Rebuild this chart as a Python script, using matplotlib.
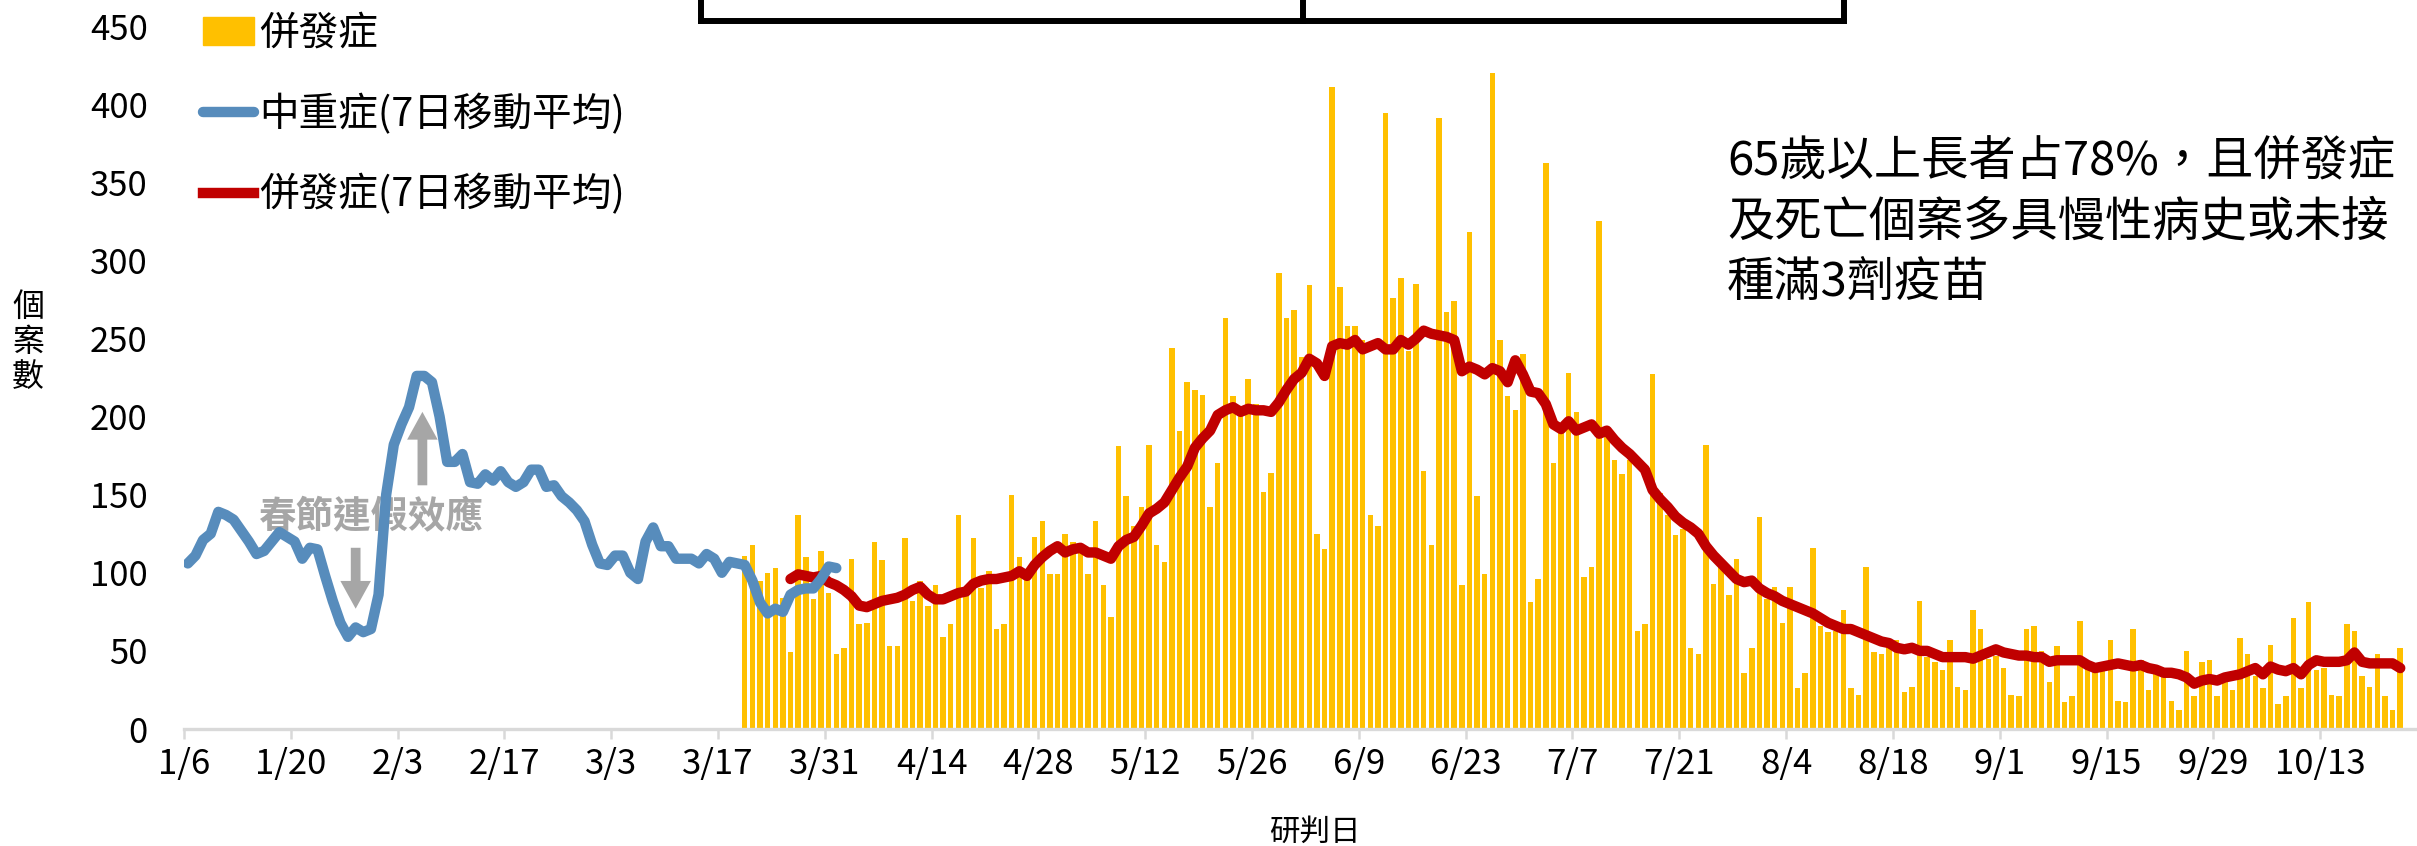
import matplotlib
matplotlib.use('Agg')
import matplotlib.pyplot as plt
from matplotlib.patches import Patch
from matplotlib.lines import Line2D
import matplotlib.dates as mdates
import pandas as pd

plt.rcParams['font.family'] = ['Noto Sans CJK TC', 'DejaVu Sans']

# 中重症 7日移動平均 (1/6 起)
severe_start = '2023-01-06'
severe_ma = [
    106, 111, 121, 125, 139, 137, 134, 127, 120, 112,
    114, 120, 126, 123, 120, 109, 116, 115, 98, 82,
    68, 59, 65, 62, 64, 86, 150, 182, 195, 206,
    226, 226, 222, 200, 171, 171, 176, 158, 157, 163,
    159, 165, 158, 155, 158, 166, 166, 155, 156, 149,
    145, 140, 133, 118, 106, 105, 111, 111, 100, 96,
    120, 129, 117, 117, 109, 109, 109, 106, 112, 109,
    100, 107, 106, 105, 95, 81, 74, 77, 75, 86,
    89, 90, 90, 96, 104, 103,
]

# 併發症 每日個案數 (3/20 起)
comp_start = '2023-03-20'
comp_daily = [
    111, 118, 95, 100, 103, 84, 49, 137, 110, 83,
    114, 87, 48, 52, 109, 67, 68, 120, 108, 53,
    53, 122, 82, 95, 79, 92, 59, 67, 137, 86,
    122, 90, 101, 64, 67, 150, 110, 98, 123, 133,
    99, 99, 125, 120, 118, 99, 133, 92, 72, 181,
    149, 130, 142, 182, 118, 107, 244, 191, 222, 217,
    214, 142, 170, 263, 213, 205, 224, 208, 152, 164,
    292, 263, 268, 238, 284, 125, 115, 411, 283, 258,
    258, 249, 137, 130, 394, 276, 289, 242, 285, 165,
    118, 391, 267, 274, 92, 318, 149, 99, 420, 249,
    213, 204, 240, 81, 96, 362, 170, 190, 228, 203,
    97, 104, 325, 191, 172, 163, 172, 63, 67, 227,
    151, 137, 124, 128, 52, 48, 182, 93, 107, 86,
    109, 36, 52, 136, 83, 91, 68, 91, 26, 36,
    116, 66, 62, 63, 76, 26, 22, 104, 49, 48,
    54, 57, 24, 27, 82, 46, 43, 38, 57, 27,
    25, 76, 64, 45, 47, 39, 22, 21, 64, 66,
    50, 30, 53, 17, 21, 69, 39, 40, 40, 57,
    18, 17, 64, 44, 25, 35, 38, 18, 12, 50,
    21, 43, 44, 21, 30, 25, 58, 48, 34, 26,
    54, 16, 21, 71, 26, 81, 38, 39, 22, 21,
    67, 63, 34, 27, 48, 21, 12, 52,
]

# 併發症 7日移動平均 (3/26 起)
comp_ma_start = '2023-03-26'
comp_ma = [
    96, 99, 98, 97, 98, 94, 92, 89, 85, 79,
    78, 80, 82, 83, 84, 86, 89, 91, 86, 83,
    83, 85, 87, 88, 93, 95, 96, 96, 97, 98,
    101, 98, 105, 110, 114, 117, 113, 115, 116, 113,
    113, 111, 109, 117, 121, 123, 130, 138, 141, 145,
    153, 161, 168, 180, 186, 191, 201, 204, 206, 203,
    205, 204, 204, 203, 209, 217, 224, 228, 237, 234,
    226, 245, 247, 246, 249, 243, 245, 247, 243, 243,
    249, 246, 250, 255, 253, 252, 251, 249, 229, 232,
    230, 227, 231, 229, 222, 236, 227, 216, 215, 208,
    195, 192, 197, 191, 193, 195, 189, 191, 185, 180,
    176, 171, 166, 153, 147, 142, 136, 132, 129, 125,
    117, 111, 106, 101, 96, 94, 95, 90, 87, 85,
    82, 80, 78, 76, 74, 71, 68, 66, 64, 64,
    62, 60, 58, 56, 55, 52, 51, 52, 50, 50,
    48, 46, 46, 46, 46, 45, 47, 49, 51, 49,
    48, 47, 47, 46, 46, 43, 44, 44, 44, 44,
    41, 39, 40, 41, 42, 41, 40, 41, 39, 38,
    36, 36, 35, 33, 29, 31, 32, 31, 33, 34,
    35, 37, 39, 35, 40, 38, 37, 39, 35, 41,
    44, 43, 43, 43, 44, 49, 43, 42, 42, 42,
    42, 39,
]

tick_start = '2023-01-06'
tick_labels = ['1/6', '1/20', '2/3', '2/17', '3/3', '3/17', '3/31', '4/14', '4/28',
               '5/12', '5/26', '6/9', '6/23', '7/7', '7/21', '8/4', '8/18', '9/1',
               '9/15', '9/29', '10/13']

note_lines = ['65歲以上長者占78%，且併發症', '及死亡個案多具慢性病史或未接', '種滿3劑疫苗']

# 每日資料置於該日格子中央
half = pd.Timedelta(hours=12)
severe_x = pd.date_range(severe_start, periods=len(severe_ma)) + half
comp_x = pd.date_range(comp_start, periods=len(comp_daily)) + half
comp_ma_x = pd.date_range(comp_ma_start, periods=len(comp_ma)) + half
tick_x = pd.date_range(tick_start, periods=len(tick_labels), freq='14D')

W, H = 2417, 846
fig = plt.figure(figsize=(W / 100, H / 100), dpi=100)
ax = fig.add_axes([184 / W, 1 - 729 / H, 1 - 184 / W, 703 / H])

lw = 7.5
ax.bar(comp_x, comp_daily, width=0.72, color='#FFC000', zorder=1, label='併發症')
ax.plot(comp_ma_x, comp_ma, color='#C00000', lw=lw, solid_capstyle='round',
        solid_joinstyle='round', zorder=3, label='併發症(7日移動平均)')
ax.plot(severe_x, severe_ma, color='#578CBC', lw=lw, solid_capstyle='round',
        solid_joinstyle='round', zorder=4, label='中重症(7日移動平均)')

x0 = pd.Timestamp(tick_start)
ax.set_xlim(mdates.date2num(x0), mdates.date2num(x0) + (W - 184) / 7.629)
ax.set_ylim(0, 450)
ax.set_yticks(range(0, 451, 50))
ax.set_xticks(tick_x)
ax.set_xticklabels(tick_labels)

for s in ['left', 'right', 'top']:
    ax.spines[s].set_visible(False)
ax.spines['bottom'].set_color('#D9D9D9')
ax.spines['bottom'].set_linewidth(2.4)
ax.tick_params(axis='x', length=7, width=1.8, color='#D9D9D9', pad=6, labelsize=25)
ax.tick_params(axis='y', length=0, pad=26, labelsize=25)

# 春節連假效應
gray = '#A6A6A6'
ax.annotate('', xy=(pd.Timestamp('2023-01-28 12:00'), 77),
            xytext=(pd.Timestamp('2023-01-28 12:00'), 116),
            arrowprops=dict(facecolor=gray, edgecolor='none', width=7, headwidth=22, headlength=20))
ax.annotate('', xy=(pd.Timestamp('2023-02-06 06:00'), 203),
            xytext=(pd.Timestamp('2023-02-06 06:00'), 156),
            arrowprops=dict(facecolor=gray, edgecolor='none', width=7, headwidth=22, headlength=20))
ax.text(pd.Timestamp('2023-01-30 12:00'), 136, '春節連假效應', color=gray,
        fontsize=27, fontweight='bold', ha='center', va='center')

handles = [Patch(color='#FFC000', label='併發症'),
           Line2D([], [], color='#578CBC', lw=lw, solid_capstyle='round', label='中重症(7日移動平均)'),
           Line2D([], [], color='#C00000', lw=lw, label='併發症(7日移動平均)')]
ax.legend(handles=handles, loc='upper left', bbox_to_anchor=(203 / W, 1 - 14 / H),
          bbox_transform=fig.transFigure, frameon=False, fontsize=28.5,
          handlelength=1.3, handleheight=0.7, handletextpad=0.12,
          labelspacing=1.0, borderpad=0, borderaxespad=0)

for i, line in enumerate(note_lines):
    fig.text(1727 / W, 1 - (161 + 61 * i) / H, line, fontsize=34, ha='left', va='center')

fig.text(28 / W, 1 - 342 / H, '個\n案\n數', fontsize=23, ha='center', va='center', linespacing=1.12)
fig.text(1315 / W, 1 - 832 / H, '研判日', fontsize=22, ha='center', va='center')

# 上方表格框線 (截斷)
for xs, ys in [([701, 1844], [21, 21]), ([701, 701], [0, 21]),
               ([1844, 1844], [0, 21]), ([1303, 1303], [0, 21])]:
    fig.add_artist(Line2D([x / W for x in xs], [1 - y / H for y in ys],
                          transform=fig.transFigure, color='black', lw=4.3,
                          solid_capstyle='projecting'))

fig.savefig('out.png', dpi=100)
